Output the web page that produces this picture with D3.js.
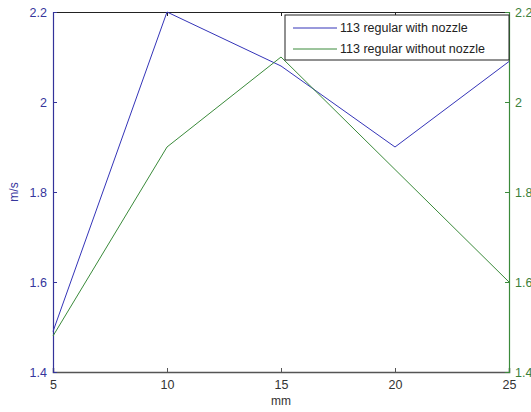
<!DOCTYPE html>
<html>
<head>
<meta charset="utf-8">
<script src="https://cdn.jsdelivr.net/npm/d3@7"></script>
<style>
  body { margin: 0; background: #fff; }
  svg { display: block; font-family: "Liberation Sans", Arial, sans-serif; }
</style>
</head>
<body>
<div id="chart"></div>
<script>
// x positions (mm)
const distances = [5, 10, 15, 20, 25];
// speed values (m/s)
const withNozzle = [1.49, 2.2, 2.08, 1.9, 2.09];
const withoutNozzle = [1.48, 1.9, 2.1, 1.85, 1.6];
const seriesNames = ["113 regular with nozzle", "113 regular without nozzle"];
const yTicks = [1.4, 1.6, 1.8, 2, 2.2];

const width = 531, height = 412;
const margin = {top: 12, right: 22, bottom: 40, left: 53};
const blue = "#3434b8", green = "#3a8a3a";
const blueText = "#36369c", greenText = "#3b803b";

const svg = d3.select("#chart").append("svg")
  .attr("width", width)
  .attr("height", height);

const x = d3.scaleLinear().domain([5, 25]).range([margin.left, width - margin.right]);
const yL = d3.scaleLinear().domain([1.4, 2.2]).range([height - margin.bottom, margin.top]);
const yR = d3.scaleLinear().domain([1.4, 2.2]).range([height - margin.bottom, margin.top]);

// bottom axis with inward ticks
const gx = svg.append("g")
  .attr("transform", "translate(0," + (height - margin.bottom) + ")")
  .call(d3.axisBottom(x).tickValues(distances).tickSize(-4).tickPadding(8).tickFormat(d3.format("d")));
gx.select(".domain").attr("stroke", "#555").attr("stroke-width", 1.5);
gx.selectAll(".tick line").attr("stroke", "#555");
gx.selectAll("text").attr("font-size", 12.5).attr("fill", "#333").attr("dy", "0.71em");

// top border + ticks
const gt = svg.append("g")
  .attr("transform", "translate(0," + margin.top + ")")
  .call(d3.axisTop(x).tickValues(distances).tickSize(-4).tickFormat(""));
gt.select(".domain").attr("stroke", "#222");
gt.selectAll(".tick line").attr("stroke", "#222");

// left axis (blue)
const gl = svg.append("g")
  .attr("transform", "translate(" + margin.left + ",0)")
  .call(d3.axisLeft(yL).tickValues(yTicks).tickSize(-4).tickPadding(6).tickFormat(d3.format("")));
gl.select(".domain").attr("stroke", "#33339a").attr("stroke-width", 1.2);
gl.selectAll(".tick line").attr("stroke", "#33339a");
gl.selectAll("text").attr("font-size", 12.5).attr("fill", blueText);

// right axis (green)
const gr = svg.append("g")
  .attr("transform", "translate(" + (width - margin.right) + ",0)")
  .call(d3.axisRight(yR).tickValues(yTicks).tickSize(-4).tickPadding(6).tickFormat(d3.format("")));
gr.select(".domain").attr("stroke", "#3a8a3a").attr("stroke-width", 1.2);
gr.selectAll(".tick line").attr("stroke", "#3a8a3a");
gr.selectAll("text").attr("font-size", 12.5).attr("fill", greenText);

// lines
const lineL = d3.line().x((d, i) => x(distances[i])).y(d => yL(d));
const lineR = d3.line().x((d, i) => x(distances[i])).y(d => yR(d));

svg.append("path").datum(withNozzle)
  .attr("d", lineL).attr("fill", "none").attr("stroke", blue).attr("stroke-width", 1);
svg.append("path").datum(withoutNozzle)
  .attr("d", lineR).attr("fill", "none").attr("stroke", green).attr("stroke-width", 1);

// axis titles
svg.append("text")
  .attr("transform", "translate(18," + ((margin.top + height - margin.bottom) / 2) + ") rotate(-90)")
  .attr("text-anchor", "middle")
  .attr("font-size", 12)
  .attr("fill", blueText)
  .text("m/s");
svg.append("text")
  .attr("x", (margin.left + width - margin.right) / 2)
  .attr("y", 405)
  .attr("text-anchor", "middle")
  .attr("font-size", 12)
  .attr("fill", "#333")
  .text("mm");

// legend
const legend = svg.append("g").attr("transform", "translate(285,15)");
legend.append("rect")
  .attr("width", 224).attr("height", 45)
  .attr("fill", "#fff").attr("stroke", "#222");
[blue, green].forEach((c, i) => {
  const row = legend.append("g").attr("transform", "translate(0," + (13 + i * 21) + ")");
  row.append("line").attr("x1", 8).attr("x2", 52).attr("stroke", c);
  row.append("text").attr("x", 55).attr("dy", "0.35em")
    .attr("font-size", 12.5).attr("fill", "#222").text(seriesNames[i]);
});
</script>
</body>
</html>
